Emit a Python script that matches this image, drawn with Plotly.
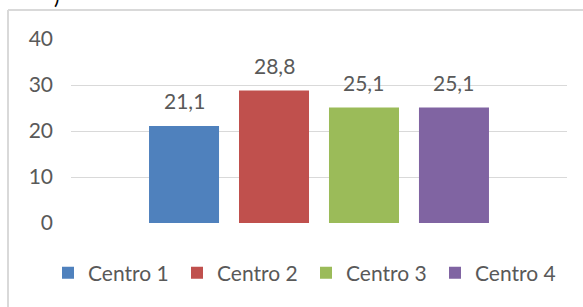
import plotly.graph_objects as go

categories = ["Centro 1", "Centro 2", "Centro 3", "Centro 4"]
values = [21.1, 28.8, 25.1, 25.1]
colors = ["#4F81BD", "#C0504D", "#9BBB59", "#8064A2"]
y_ticks = [0, 10, 20, 30, 40]

FONT = "Lato"
GREY = "#595959"

fig = go.Figure()
for cat, val, col in zip(categories, values, colors):
    fig.add_trace(go.Bar(x=[cat], y=[val], name=cat, marker=dict(color=col, line=dict(width=0)),
                         hoverinfo="skip"))

annotations = []
for cat, val in zip(categories, values):
    annotations.append(dict(x=cat, y=val, xref="x", yref="y", text=f"{val:.1f}".replace(".", ","),
                            showarrow=False, yanchor="bottom", yshift=11,
                            font=dict(family=FONT, size=21, color=GREY)))
# partial caption character visible at the top edge
annotations.append(dict(x=(57 - 71) / 496, y=1 + (39 - 10) / 184, xref="paper", yref="paper",
                        text=")", showarrow=False, yanchor="bottom", xanchor="center",
                        font=dict(family=FONT, size=21, color="#000000")))

fig.update_layout(
    width=583, height=307,
    margin=dict(l=71, r=16, t=39, b=84),
    paper_bgcolor="white", plot_bgcolor="white",
    barmode="overlay", bargap=0.222,
    separators=",.",
    showlegend=True,
    legend=dict(orientation="h", x=(48 - 71) / 496, xanchor="left", y=(223 - 273) / 184, yanchor="middle",
                font=dict(family=FONT, size=21, color=GREY), entrywidth=84, entrywidthmode="pixels",
                bgcolor="rgba(0,0,0,0)", traceorder="normal"),
    xaxis=dict(type="category", categoryorder="array", categoryarray=categories,
               range=[-1.256, 4.256], showticklabels=False, showgrid=False, zeroline=False,
               showline=False, fixedrange=True),
    yaxis=dict(range=[0, 40], tickvals=y_ticks, ticktext=[str(t) for t in y_ticks],
               showgrid=True, gridcolor="#D9D9D9", gridwidth=1, zeroline=False, showline=False,
               tickfont=dict(family=FONT, size=21, color=GREY), ticklabelstandoff=17, ticks="",
               fixedrange=True),
    annotations=annotations,
    shapes=[
        dict(type="line", xref="paper", yref="paper", x0=(8 - 71) / 496, x1=(590 - 71) / 496,
             y0=1 + (39 - 10) / 184, y1=1 + (39 - 10) / 184, line=dict(color="#D9D9D9", width=2)),
        dict(type="line", xref="paper", yref="paper", x0=(8 - 71) / 496, x1=(8 - 71) / 496,
             y0=1 + (39 - 10) / 184, y1=(223 - 315) / 184, line=dict(color="#D9D9D9", width=2)),
    ],
)

fig.write_html("out.html", config={"displayModeBar": False, "staticPlot": True},
               post_script="document.body.style.margin='0';document.body.style.overflow='hidden';")
